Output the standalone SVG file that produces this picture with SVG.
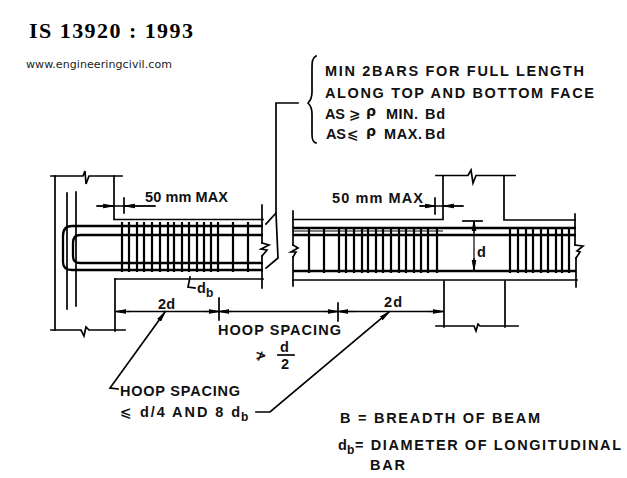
<svg xmlns="http://www.w3.org/2000/svg" width="627" height="478" viewBox="0 0 627 478">
<defs>
<marker id="ah" viewBox="0 0 10 6" refX="10" refY="3" markerWidth="10" markerHeight="6" markerUnits="userSpaceOnUse" orient="auto-start-reverse"><path d="M0 1.200L10 3L0 4.800Z" fill="#000" stroke="#000" stroke-width="1"/></marker>
</defs>
<style>
.l{fill:none;stroke:#000;stroke-width:1.7;stroke-linecap:square;stroke-linejoin:miter}
.h{fill:none;stroke:#000;stroke-width:2.300;stroke-linecap:butt}
.t{fill:none;stroke:#000;stroke-width:1.200}
.s{stroke:#000;stroke-width:2.200;fill:none}
text{font-family:"Liberation Sans",Arial,sans-serif;font-size:14.500px;font-weight:bold;fill:#111}
.u{font-family:"DejaVu Sans",sans-serif;font-weight:normal;font-size:11px;fill:#222}
.ti{font-family:"Liberation Serif","Times New Roman",serif;font-size:22px;font-weight:bold;fill:#000}
.m{font-family:"DejaVu Sans",sans-serif;font-size:14px;font-weight:bold}
.sb{font-size:12px}
</style>
<rect width="627" height="478" fill="#fff"/>
<text class="ti" x="29" y="38" textLength="164" lengthAdjust="spacing">IS 13920 : 1993</text>
<text class="u" x="26" y="68" textLength="146" lengthAdjust="spacing">www.engineeringcivil.com</text>
<g id="notes">
<text x="325" y="76" textLength="259" lengthAdjust="spacing">MIN 2BARS FOR FULL LENGTH</text>
<text x="325" y="98" textLength="269" lengthAdjust="spacing">ALONG TOP AND BOTTOM FACE</text>
<text x="325" y="119" textLength="20" lengthAdjust="spacing">AS</text>
<text class="m" x="349" y="119">⩾</text>
<text class="m" x="366" y="116">ρ</text>
<text x="386" y="119" textLength="32" lengthAdjust="spacing">MIN.</text>
<text x="425" y="119" textLength="20" lengthAdjust="spacing">Bd</text>
<text x="326" y="139" textLength="20" lengthAdjust="spacing">AS</text>
<text class="m" x="347" y="139">⩽</text>
<text class="m" x="366" y="136">ρ</text>
<text x="384" y="139" textLength="38" lengthAdjust="spacing">MAX.</text>
<text x="425" y="139" textLength="20" lengthAdjust="spacing">Bd</text>
<path class="l" d="M316 56C312 58 312 62 312 70V92C312 98 310 101 308 103C310 105 312 108 312 114V134C312 140 313 142 316 143" stroke-linecap="round"/>
</g>
<g id="connectors">
<path class="l" d="M298 103H276V213L266 224"/>
<path class="l" d="M276 213L278 258L266 268"/>
<path class="l" d="M97 206H155"/>
<path class="t" d="M97 206H113" marker-end="url(#ah)"/>
<path class="t" d="M155 206H125" marker-end="url(#ah)"/>
<path class="l" d="M124 198V213"/>
<path class="l" d="M420 206H463"/>
<path class="t" d="M420 206H435" marker-end="url(#ah)"/>
<path class="t" d="M463 206H444" marker-end="url(#ah)"/>
<path class="l" d="M435 198V214"/>
<path class="t" d="M474 221V270"/>
<path class="l" d="M463 221H482"/>
<path class="t" d="M474 233V221" marker-end="url(#ah)"/>
<path class="t" d="M474 258V270" marker-end="url(#ah)"/>
<path class="l" d="M116 311.500H443"/>
<path class="t" d="M130 311.500H116" marker-end="url(#ah)"/>
<path class="t" d="M204 311.500H219" marker-end="url(#ah)"/>
<path class="t" d="M233 311.500H219" marker-end="url(#ah)"/>
<path class="t" d="M323 311.500H338" marker-end="url(#ah)"/>
<path class="t" d="M355 311.500H338" marker-end="url(#ah)"/>
<path class="t" d="M428 311.500H443" marker-end="url(#ah)"/>
<path class="l" d="M219 298V320"/>
<path class="l" d="M338 303V321"/>
<path class="l" d="M118 389L110 388L165 312" marker-end="url(#ah)"/>
<path class="l" d="M256 412H270L389 312" marker-end="url(#ah)"/>
<path class="l" d="M190 277L188 287L195 288"/>
</g>
<g id="left-frame">
<path class="l" d="M51 176H83L85 171L86 184L89 176H122"/>
<path class="l" d="M55 176V330"/>
<path class="l" d="M114 176V219.500H263"/>
<path class="l" d="M262 205V243M262 256V288"/>
<path class="l" d="M115 279H263"/>
<path class="l" d="M115 279V331"/>
<path class="l" d="M51 330H81L84 336L86 327L89 330H125"/>
<path class="l" d="M67 193V309M76 192V306"/>
<path class="h" d="M263 226H72C66 226 63 230 63 236V262C63 267 66 270 72 270H263"/>
<path class="h" d="M263 235H80C75 235 73 238 73 243V256C73 261 76 263 80 263H263"/>
<path class="s" d="M122 222V272M129 222V272M137 222V272M144 222V272M152 222V272M160 222V272M168 222V272M174 222V272M182 222V272M189 222V272M197 222V272M204 222V272M211 222V272M218 222V272M233 222V272M248 222V272"/>
<path class="l" d="M262 243L269 245L261 249L267 250L262 256"/>
</g>
<g id="right-frame">
<path class="l" d="M293 219.500H443V175.500M436 175.500H468L471 170L473 183L476 175.500H515"/>
<path class="l" d="M504 176V220H575"/>
<path class="l" d="M293 211V245M293 257V286M575 214V245M576 258V287"/>
<path class="l" d="M293 280H577"/>
<path class="l" d="M444 281V327M505 281V327"/>
<path class="l" d="M436 326H474L476 331L478 324L480 326H518"/>
<path class="h" d="M293 228H576M293 235H576M293 271H576"/>
<path class="t" d="M293 231H443"/>
<path class="s" d="M309 227V273M324 227V273M339 227V273M346 227V273M354 227V273M362 227V273M368 227V273M376 227V273M383 227V273M391 227V273M399 227V273M406 227V273M414 227V273M421 227V273M428 227V273M437 227V273M510 227V273M518 227V273M526 227V273M533 227V273M541 227V273M548 227V273M556 227V273M562 227V273M569 227V273"/>
<path class="l" d="M293 245L298 248L291 252L296 252L293 257"/>
<path class="l" d="M575 245L583 246L577 251L580 252L576 258"/>
</g>
<g id="labels">
<text x="145" y="202" textLength="83" lengthAdjust="spacing">50 mm MAX</text>
<text x="332" y="203" textLength="91" lengthAdjust="spacing">50 mm MAX</text>
<text x="477" y="257">d</text>
<text x="197" y="293">d</text>
<text class="sb" x="206" y="297">b</text>
<text x="158" y="309" textLength="17" lengthAdjust="spacing">2d</text>
<text x="384" y="307" textLength="18" lengthAdjust="spacing">2d</text>
<text x="218" y="335" textLength="123" lengthAdjust="spacing">HOOP SPACING</text>
<text x="280" y="352">d</text>
<path class="l" d="M278 355H294"/>
<text x="281" y="369">2</text>
<text class="m" x="255" y="360">≯</text>
<text x="120" y="396" textLength="120" lengthAdjust="spacing">HOOP SPACING</text>
<text class="m" x="120" y="417">⩽</text>
<text x="140" y="417" textLength="100" lengthAdjust="spacing">d/4 AND 8 d</text>
<text class="sb" x="241" y="421">b</text>
<text x="340" y="423" textLength="200" lengthAdjust="spacing">B = BREADTH OF BEAM</text>
<text x="338" y="450">d</text>
<text class="sb" x="347" y="454">b</text>
<text x="355" y="450" textLength="266" lengthAdjust="spacing">= DIAMETER OF LONGITUDINAL</text>
<text x="370" y="470" textLength="35" lengthAdjust="spacing">BAR</text>
</g>
</svg>
